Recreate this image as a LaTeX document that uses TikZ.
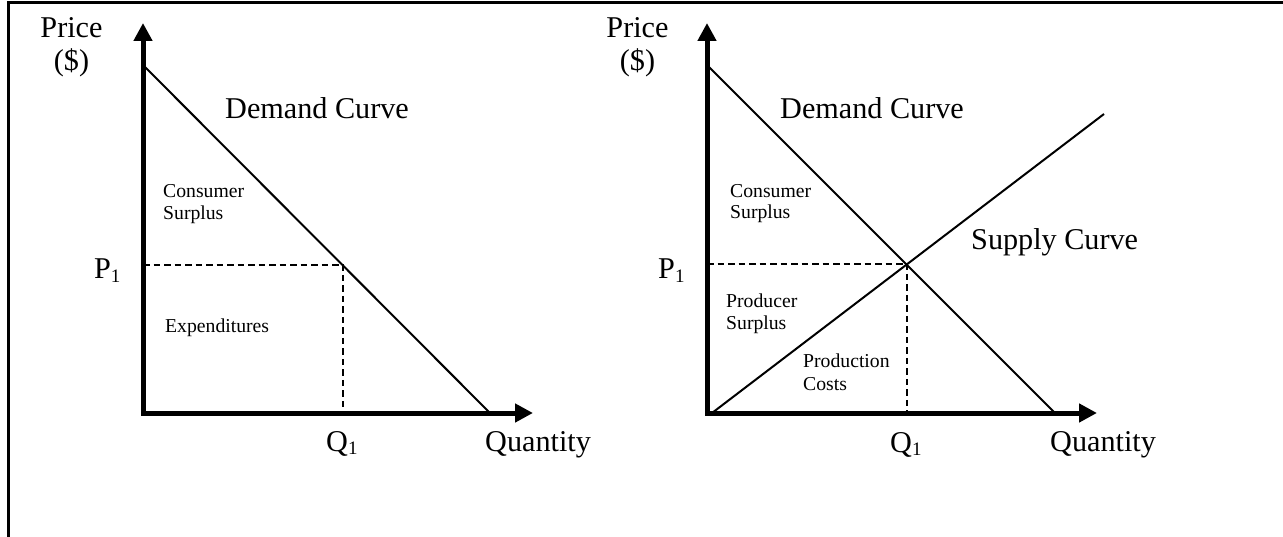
\documentclass[tikz,border=0pt]{standalone}
\usepackage{fontspec}
\setmainfont{Liberation Serif}
\usetikzlibrary{arrows.meta}
\newcommand{\mysub}[1]{\raisebox{-3.5pt}{\fontsize{19}{19}\selectfont #1}}
\tikzset{
  big/.style={font=\fontsize{30.2}{30.2}\selectfont, inner sep=0pt, anchor=base west},
  small/.style={font=\fontsize{19.7}{19.7}\selectfont, inner sep=0pt, anchor=base west},
  axis/.style={line width=5pt, line join=miter, {Triangle[length=18pt,width=18pt]}-{Triangle[length=18pt,width=18pt]}},
  curve/.style={line width=2pt},
  guide/.style={line width=2pt, dash pattern=on 6.5pt off 4pt},
  frame/.style={line width=3pt}
}
\begin{document}
\begin{tikzpicture}[x=1pt,y=-1pt]
\useasboundingbox (0,0) rectangle (1283,537);
% frame (top and left edges visible)
\coordinate (fb) at (8,537);
\coordinate (fc) at (8,3);
\coordinate (fr) at (1283,3);
\draw[frame] (fb) -- (fc) -- (fr);

% ---------- left chart ----------
\coordinate (Ltop) at (143,23);
\coordinate (Lo) at (143,413);
\coordinate (Lright) at (533,413);
\coordinate (LdA) at (143,65);
\coordinate (LdB) at (490,413);
\coordinate (Le) at (343,265);
\coordinate (Lp) at (143,265);
\coordinate (Lq) at (343,413);
\draw[axis] (Ltop) -- (Lo) -- (Lright);
\draw[curve] (LdA) -- (LdB);
\draw[guide] (Lp) -- (Le) -- (Lq);

\node[big, anchor=base] (Lprice) at (71.5,38) {Price};
\node[big, anchor=base] (Ldollar) at (71.5,71) {(\$)};
\node[big] (Ldem) at (225,119) {Demand Curve};
\node[small] (Lcs1) at (163,198) {Consumer};
\node[small] (Lcs2) at (163,220) {Surplus};
\node[big] (Lp1) at (94,279) {P\mysub{1}};
\node[small] (Lexp) at (165,333) {Expenditures};
\node[big] (Lq1) at (326,451) {Q\mysub{1}};
\node[big] (Lqty) at (485,451) {Quantity};

% ---------- right chart ----------
\coordinate (Rtop) at (707,23);
\coordinate (Ro) at (707,413);
\coordinate (Rright) at (1097,413);
\coordinate (RdA) at (707,65);
\coordinate (RdB) at (1055,413);
\coordinate (RsA) at (712,413);
\coordinate (RsB) at (1104,114);
\coordinate (Re) at (907,264);
\coordinate (Rp) at (707,264);
\coordinate (Rq) at (907,413);
\draw[axis] (Rtop) -- (Ro) -- (Rright);
\draw[curve] (RdA) -- (RdB);
\draw[curve] (RsA) -- (RsB);
\draw[guide] (Rp) -- (Re) -- (Rq);

\node[big, anchor=base] (Rprice) at (637.5,38) {Price};
\node[big, anchor=base] (Rdollar) at (637.5,71) {(\$)};
\node[big] (Rdem) at (780,119) {Demand Curve};
\node[small] (Rcs1) at (730,198) {Consumer};
\node[small] (Rcs2) at (730,219) {Surplus};
\node[big] (Rsup) at (971,250) {Supply Curve};
\node[big] (Rp1) at (658,279) {P\mysub{1}};
\node[small] (Rps1) at (726,308) {Producer};
\node[small] (Rps2) at (726,330) {Surplus};
\node[small] (Rpc1) at (803,368) {Production};
\node[small] (Rpc2) at (803,390) {Costs};
\node[big] (Rq1) at (890,452) {Q\mysub{1}};
\node[big] (Rqty) at (1050,451) {Quantity};
\end{tikzpicture}
\end{document}
